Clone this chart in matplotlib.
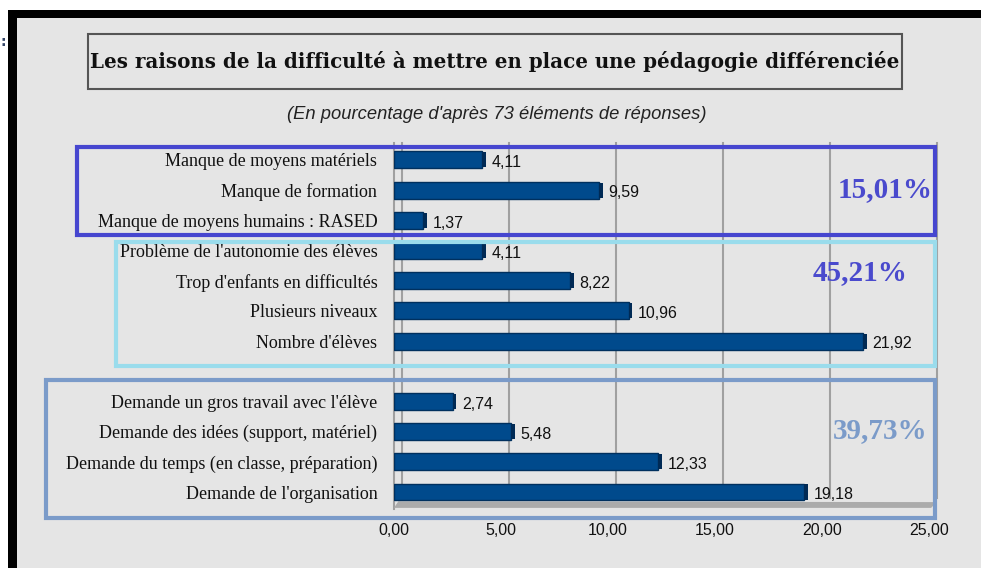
import matplotlib.pyplot as plt
from matplotlib.patches import Rectangle, Polygon
from matplotlib.transforms import ScaledTranslation

W, H = 981, 568

# data, top to bottom ("" = empty slot between groups)
categories = [
    "Manque de moyens matériels",
    "Manque de formation",
    "Manque de moyens humains : RASED",
    "Problème de l'autonomie des élèves",
    "Trop d'enfants en difficultés",
    "Plusieurs niveaux",
    "Nombre d'élèves",
    "",
    "Demande un gros travail avec l'élève",
    "Demande des idées (support, matériel)",
    "Demande du temps (en classe, préparation)",
    "Demande de l'organisation",
]
values = [4.11, 9.59, 1.37, 4.11, 8.22, 10.96, 21.92, None, 2.74, 5.48, 12.33, 19.18]
group_totals = ["15,01%", "45,21%", "39,73%"]
xticks = [0, 5, 10, 15, 20, 25]

title = "Les raisons de la difficulté à mettre en place une pédagogie différenciée"
subtitle = "(En pourcentage d'après 73 éléments de réponses)"


def fx(x):
    return x / W


def fy(y):
    return 1 - y / H


def fmt(v):
    return f"{v:.2f}".replace(".", ",")


fig = plt.figure(figsize=(W / 100, H / 100), dpi=100)
fig.patch.set_facecolor("white")

# black frame + grey panel
fig.patches.append(Rectangle((fx(8), 0), 1, fy(10), transform=fig.transFigure,
                             facecolor="black", edgecolor="none", zorder=-11))
fig.patches.append(Rectangle((fx(17), 0), 1, fy(18), transform=fig.transFigure,
                             facecolor="#E5E5E5", edgecolor="none", zorder=-10))
fig.text(fx(1), fy(42), ":", fontsize=10, fontweight="bold", color="#334466",
         va="center", ha="left")

# title box
fig.patches.append(Rectangle((fx(88), fy(89)), fx(902 - 88), (89 - 34) / H,
                             transform=fig.transFigure, facecolor="none",
                             edgecolor="#555555", lw=1.5, zorder=1))
fig.text(fx(495), fy(61), title, family="DejaVu Serif", fontweight="bold",
         fontsize=14.3, ha="center", va="center", color="#111111")
fig.text(fx(497), fy(114), subtitle, family="Liberation Sans", style="italic",
         fontsize=13.2, ha="center", va="center", color="#222222")

# axes
top, bottom, left, right = 143, 505, 394, 929
ax = fig.add_axes([fx(left), fy(bottom), fx(right - left), (bottom - top) / H])
ax.set_zorder(1)
ax.set_facecolor("none")
ax.set_xlim(0, 25)
ax.set_ylim(11.43, -0.56)
for s in ax.spines.values():
    s.set_visible(False)

# back-wall gridlines (shifted a bit right like the 3D wall)
shift = ScaledTranslation(8 / 100, 0, fig.dpi_scale_trans)
for t in xticks:
    ax.plot([t, t], [0.02, 1], transform=ax.get_xaxis_transform() + shift,
            color="#A0A0A0", lw=1.5, zorder=0, clip_on=False)
ax.plot([0, 0], [-0.01, 1], transform=ax.get_xaxis_transform(),
        color="#A0A0A0", lw=1.5, zorder=0, clip_on=False)
# floor
floor = Polygon([[0, -0.008], [25.1, -0.008], [25.35, 0.008], [0.2, 0.01]], closed=True,
                transform=ax.get_xaxis_transform(), facecolor="#ABABAB",
                edgecolor="none", zorder=0, clip_on=False)
ax.add_patch(floor)

pos = [i for i, v in enumerate(values) if v is not None]
vals = [v for v in values if v is not None]
ax.barh(pos, vals, height=0.56, color="#004A8C", edgecolor="#00305E", lw=1.0, zorder=3)
ax.barh(pos, [0.18] * len(vals), left=vals, height=0.5, color="#002A55",
        edgecolor="none", zorder=3)
for p, v in zip(pos, vals):
    ax.annotate(fmt(v), (v + 0.18, p), xytext=(4, -2), textcoords="offset points",
                ha="left", va="center", fontsize=11.5, family="Liberation Sans",
                color="#111111", zorder=4)

ax.set_yticks(range(len(categories)))
ax.set_yticklabels(categories, family="Liberation Serif", fontsize=13, color="#111111")
ax.tick_params(axis="y", length=0, pad=12)
ax.set_xticks(xticks)
ax.set_xticklabels([fmt(t) for t in xticks], family="Liberation Sans", fontsize=11.5,
                   color="#111111")
ax.tick_params(axis="x", length=0, pad=13)

# group boxes
boxes = [((77, 147, 935, 235), "#4646CF"),
         ((116, 242, 935, 366), "#9ADCEC"),
         ((46, 380, 935, 518), "#7B9BC9")]
for (x0, y0, x1, y1), c in boxes:
    fig.patches.append(Rectangle((fx(x0), fy(y1)), fx(x1 - x0), (y1 - y0) / H,
                                 transform=fig.transFigure, facecolor="none",
                                 edgecolor=c, lw=3, zorder=5))

pct_pos = [(885, 190, "#4A4ACD"), (860, 273, "#4A4ACD"), (880, 431, "#7B9BC9")]
for (x, y, c), t in zip(pct_pos, group_totals):
    fig.text(fx(x), fy(y), t, family="Liberation Serif", fontweight="bold",
             fontsize=21, color=c, ha="center", va="center")

fig.savefig("out.png", dpi=100)
